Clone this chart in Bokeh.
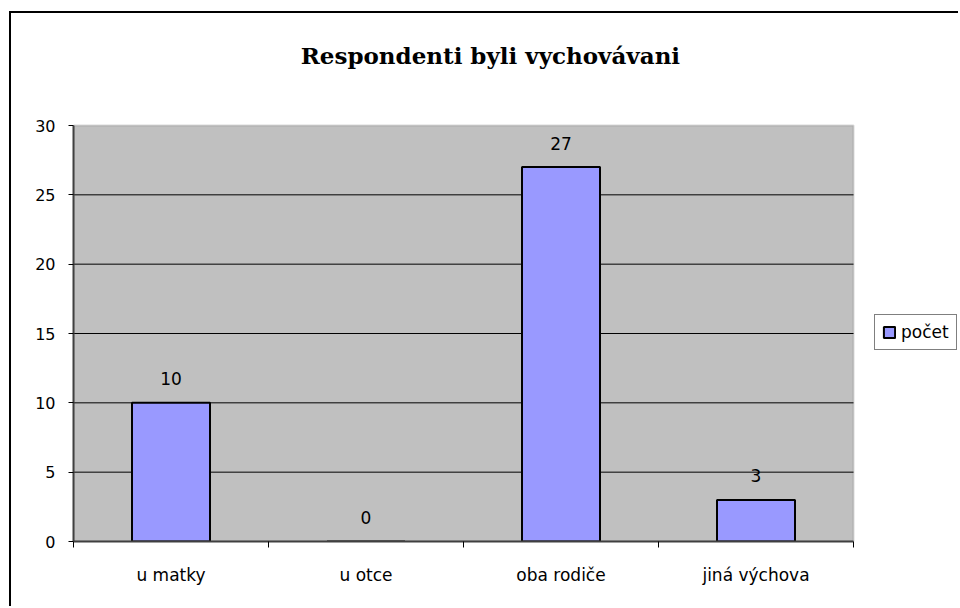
from bokeh.plotting import figure
from bokeh.models import (Range1d, FixedTicker, ColumnDataSource, Legend, LegendItem,
                          Label, BoxAnnotation)
from bokeh.core.properties import value
from bokeh.embed import file_html
from bokeh.resources import INLINE

categories = ["u matky", "u otce", "oba rodiče", "jiná výchova"]
counts = [10, 0, 27, 3]
series_name = "počet"
title_text = "Respondenti byli vychovávani"
y_ticks = [0, 5, 10, 15, 20, 25, 30]

n = len(categories)
y_max = y_ticks[-1]
centers = [i + 0.5 for i in range(n)]
bounds = list(range(n + 1))

src = ColumnDataSource(dict(x=centers, top=counts, lab=[str(c) for c in counts]))
grid_src = ColumnDataSource(dict(y=y_ticks[1:-1]))

# frame covers the whole area right of the y axis and above the x axis;
# the grey plot area is drawn as a box over the data extent
p = figure(width=949, height=595, output_backend="svg", toolbar_location=None,
           x_range=Range1d(0, n * 887 / 780), y_range=Range1d(0, y_max * 528 / 416),
           min_border_left=62, min_border_right=0, min_border_top=0, min_border_bottom=67)
p.margin = (11, 0, 0, 9)
p.styles = {"border-left": "2px solid black", "border-top": "2px solid black"}

p.background_fill_color = "white"
p.border_fill_color = "white"
p.outline_line_color = None

p.add_layout(BoxAnnotation(left=0, right=n, bottom=0, top=y_max, level="image",
                           fill_color="#C0C0C0", fill_alpha=1,
                           line_color="#808080", line_width=2))

FONT = "DejaVu Sans"

# y axis
p.yaxis.ticker = FixedTicker(ticks=y_ticks)
p.yaxis.bounds = (0, y_max)
p.yaxis.major_tick_out = 5
p.yaxis.major_tick_in = 0
p.yaxis.minor_tick_out = 0
p.yaxis.minor_tick_in = 0
p.yaxis.axis_line_color = "#404040"
p.yaxis.axis_line_width = 2
p.yaxis.major_tick_line_color = "black"
p.yaxis.major_label_text_font = FONT
p.yaxis.major_label_text_font_size = "16px"
p.yaxis.major_label_text_color = "black"
p.yaxis.major_label_standoff = 13

# x axis
p.xaxis.ticker = FixedTicker(ticks=centers, minor_ticks=bounds)
p.xaxis.bounds = (0, n)
p.xaxis.major_label_overrides = {c: lab for c, lab in zip(centers, categories)}
p.xaxis.major_tick_out = 0
p.xaxis.major_tick_in = 0
p.xaxis.minor_tick_out = 6
p.xaxis.minor_tick_in = 0
p.xaxis.minor_tick_line_color = "black"
p.xaxis.axis_line_color = "#404040"
p.xaxis.axis_line_width = 2
p.xaxis.major_label_text_font = FONT
p.xaxis.major_label_text_font_size = "17px"
p.xaxis.major_label_text_color = "black"
p.xaxis.major_label_standoff = 17

p.xgrid.visible = False
p.ygrid.visible = False

# horizontal gridlines restricted to the grey plot area
p.segment(x0=0, x1=n, y0="y", y1="y", source=grid_src, level="underlay",
          line_color="black", line_width=1)

bars = p.vbar(x="x", top="top", width=0.4, bottom=0, source=src,
              fill_color="#9999FF", line_color="black", line_width=2)

p.text(x="x", y="top", text="lab", source=src, y_offset=-24,
       text_align="center", text_baseline="middle",
       text_font=value(FONT), text_font_size="17px", text_color="black")

p.add_layout(Label(x=n * 0.5345, y=y_max * 1.168, text=title_text, text_align="center",
                   text_baseline="middle", text_font="DejaVu Serif",
                   text_font_style="bold", text_font_size="23px", text_color="black"))

legend = Legend(items=[LegendItem(label=series_name, renderers=[bars])],
                location=(801, 191), padding=7, margin=0, spacing=0,
                glyph_width=14, glyph_height=14, label_standoff=5,
                label_text_font=FONT, label_text_font_size="17px",
                label_text_color="black",
                border_line_color="black", border_line_width=1,
                background_fill_color="white", background_fill_alpha=1)
p.add_layout(legend, "center")

open("out.html", "w").write(file_html(p, INLINE))
